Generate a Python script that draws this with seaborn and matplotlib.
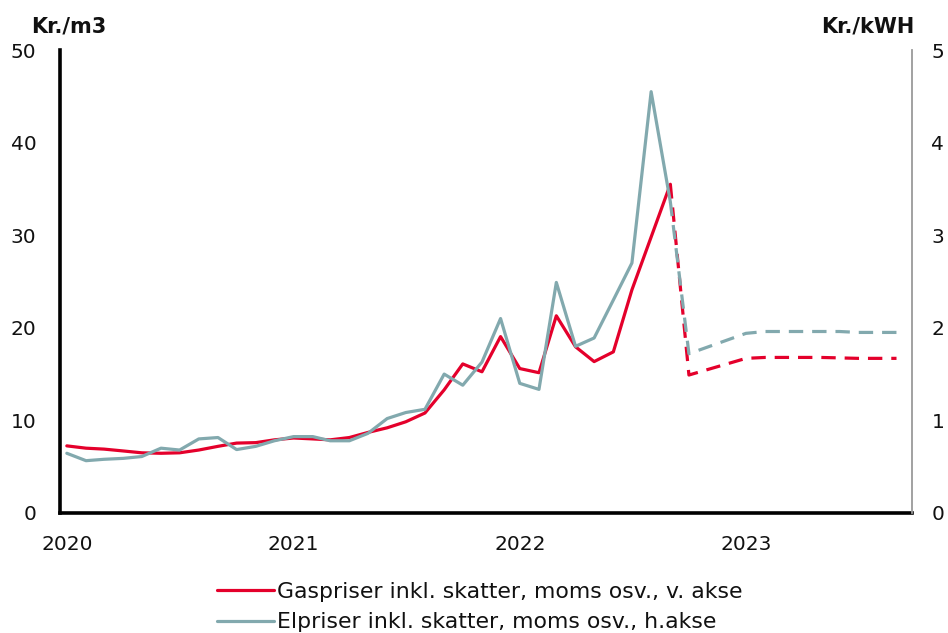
import pandas as pd
import matplotlib
matplotlib.use("Agg")
import matplotlib.pyplot as plt
import seaborn as sns
from matplotlib.lines import Line2D

# Monthly observations, Jan 2020 - Sep 2022
months = pd.date_range("2020-01-01", "2022-09-01", freq="MS")
gas = [7.25, 7.0, 6.9, 6.7, 6.5, 6.45, 6.5, 6.8, 7.2, 7.55, 7.6, 7.9,
       8.1, 8.0, 7.9, 8.15, 8.7, 9.2, 9.85, 10.8, 13.3, 16.1, 15.25, 19.05,
       15.6, 15.15, 21.3, 17.95, 16.35, 17.4, 24.1, 29.8, 35.5]
el = [0.645, 0.565, 0.58, 0.59, 0.61, 0.70, 0.68, 0.80, 0.815, 0.685, 0.72, 0.78,
      0.825, 0.825, 0.78, 0.78, 0.86, 1.02, 1.085, 1.12, 1.50, 1.38, 1.63, 2.10,
      1.40, 1.335, 2.49, 1.80, 1.89, 2.30, 2.70, 4.55, 3.36]

# Forecast path
fc_months = pd.to_datetime(["2022-09-01", "2022-10-01", "2023-01-01", "2023-02-01",
                            "2023-03-01", "2023-04-01", "2023-05-01", "2023-06-01",
                            "2023-07-01", "2023-08-01", "2023-09-01"])
gas_fc = [35.5, 14.9, 16.7, 16.8, 16.8, 16.8, 16.8, 16.75, 16.7, 16.7, 16.7]
el_fc = [3.36, 1.72, 1.94, 1.96, 1.96, 1.96, 1.96, 1.96, 1.95, 1.95, 1.95]

years = [2020, 2021, 2022, 2023]
left_ticks = [0, 10, 20, 30, 40, 50]
right_ticks = [0, 1, 2, 3, 4, 5]

gas_label = "Gaspriser inkl. skatter, moms osv., v. akse"
el_label = "Elpriser inkl. skatter, moms osv., h.akse"

RED = "#E4002B"
TEAL = "#82A9AE"
INK = "#111111"

sns.set_theme(style="white")
plt.rcParams["font.family"] = ["DejaVu Sans"]

obs = pd.DataFrame({"date": months, "gas": gas, "el": el})
fc = pd.DataFrame({"date": fc_months, "gas": gas_fc, "el": el_fc})

fig = plt.figure(figsize=(9.48, 6.33), dpi=100)
ax = fig.add_axes([60 / 948, 1 - 513 / 633, (912 - 60) / 948, (513 - 50) / 633])
ax2 = ax.twinx()

lw = 2.3
dash = (0, (4.5, 2.8))
sns.lineplot(data=obs, x="date", y="gas", ax=ax, color=RED, lw=lw)
sns.lineplot(data=fc, x="date", y="gas", ax=ax, color=RED, lw=lw, linestyle=dash)
sns.lineplot(data=obs, x="date", y="el", ax=ax2, color=TEAL, lw=lw)
sns.lineplot(data=fc, x="date", y="el", ax=ax2, color=TEAL, lw=lw, linestyle=dash)

ax.set_xlim(pd.Timestamp("2019-12-21"), pd.Timestamp("2023-09-26"))
ax.set_ylim(0, 50)
ax2.set_ylim(0, 5)
ax.set_yticks(left_ticks)
ax2.set_yticks(right_ticks)
ax.set_xticks([pd.Timestamp(f"{y}-01-01") for y in years])
ax.set_xticklabels([str(y) for y in years])
ax.set_xlabel("")
ax.set_ylabel("")
ax2.set_ylabel("")

fs = 14.5
ax.tick_params(axis="x", length=0, pad=16, labelsize=fs, colors=INK)
ax.tick_params(axis="y", length=0, pad=17, labelsize=fs, colors=INK)
ax2.tick_params(axis="y", length=0, pad=14, labelsize=fs, colors=INK)

for a in (ax, ax2):
    a.grid(False)
    a.spines["top"].set_visible(False)
ax.spines["left"].set_color("black")
ax.spines["left"].set_linewidth(2.6)
ax.spines["bottom"].set_color("black")
ax.spines["bottom"].set_linewidth(2.6)
ax.spines["right"].set_visible(False)
ax2.spines["left"].set_visible(False)
ax2.spines["bottom"].set_visible(False)
ax2.spines["right"].set_color("#9a9a9a")
ax2.spines["right"].set_linewidth(1.3)

fig.text(31 / 948, 1 - 27 / 633, "Kr./m3", fontsize=15, fontweight="bold",
         ha="left", va="center", color=INK)
fig.text(914 / 948, 1 - 27 / 633, "Kr./kWH", fontsize=15, fontweight="bold",
         ha="right", va="center", color=INK)

handles = [Line2D([], [], color=RED, lw=lw), Line2D([], [], color=TEAL, lw=lw)]
fig.legend(handles, [gas_label, el_label], loc="center",
           bbox_to_anchor=(480 / 948, 1 - 607 / 633), frameon=False,
           fontsize=15.8, handlelength=2.6, handletextpad=0.12, labelspacing=0.5,
           borderpad=0, labelcolor=INK)

fig.savefig("out.png", dpi=100)
